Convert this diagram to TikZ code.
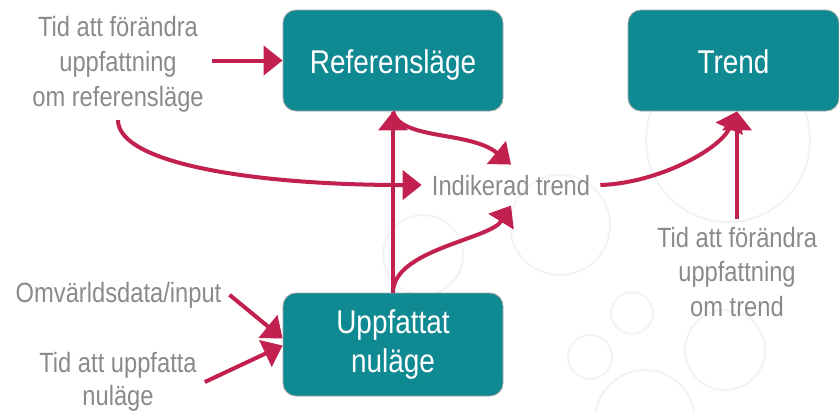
\documentclass[tikz,border=0pt]{standalone}
\usepackage{fontspec}
\setmainfont{Liberation Sans}[FakeStretch=0.85]
\usetikzlibrary{arrows.meta}
\definecolor{teal1}{HTML}{0F8A92}
\definecolor{arrred}{HTML}{C2214F}
\definecolor{txtgray}{HTML}{8A8A8A}
\definecolor{ring}{HTML}{F3F3F3}
\begin{document}
\begin{tikzpicture}[x=1bp,y=-1bp,
  box/.style={draw=black!35, line width=0.8bp, fill=teal1, rounded corners=13bp, text=white, font=\fontsize{33}{40}\selectfont, align=center, inner sep=0pt},
  lbl/.style={text=txtgray, font=\fontsize{28}{35}\selectfont, align=center, inner sep=8bp},
  arr/.style={draw=arrred, line width=4bp, -{Triangle[length=19bp,width=29bp]}},
  ringst/.style={draw=ring, line width=2bp}]
\useasboundingbox (0,0) rectangle (839,413);
% faint background rings
\draw[ringst] (560,225) circle[radius=50];
\draw[ringst] (423,255) circle[radius=40];
\draw[ringst] (632,313) circle[radius=21];
\draw[ringst] (590,357) circle[radius=22];
\draw[ringst] (725,350) circle[radius=40];
\draw[ringst] (645,420) circle[radius=50];
\draw[ringst] (728,140) circle[radius=82];
% boxes
\node[box, minimum width=220bp, minimum height=101bp, text height=30bp, text depth=5bp] (ref) at (393,60.5) {Referensläge};
\node[box, minimum width=211bp, minimum height=101bp, text height=30bp, text depth=5bp] (trend) at (733.5,60.5) {Trend};
\node[box, minimum width=220bp, minimum height=103bp] (upp) at (393,344.5) {Uppfattat\\nuläge};
% labels
\node[lbl] (tidref) at (118,64) {Tid att förändra\\uppfattning\\om referensläge};
\node[lbl, anchor=base, inner sep=10bp] (ind) at (511,195) {Indikerad trend};
\node[lbl] (tidtrend) at (737,272) {Tid att förändra\\uppfattning\\om trend};
\node[lbl, anchor=base] (omv) at (118.5,302) {Omvärldsdata/input};
\node[lbl, font=\fontsize{28}{33}\selectfont] (tidupp) at (118,382) {Tid att uppfatta\\nuläge};
% connectors
\draw[arr] (tidref.east |- ref.west) -- (ref.west);
\draw[arr] (tidref.south) .. controls +(0,43) and +(-170,0) .. (ind.west);
\draw[arr] (upp.north) -- (ref.south);
\draw[arr] (ref.south) .. controls +(7,29) and +(-41,-34) .. (ind.north);
\draw[arr] (upp.north) .. controls +(0,-43) and +(-21,34) .. (ind.south);
\draw[arr] (ind.east) .. controls +(58,-2) and +(-17,38) .. (tidtrend.north |- trend.south);
\draw[arr] (tidtrend.north) -- (tidtrend.north |- trend.south);
\draw[arr] (omv.east) -- ([yshift=6bp]upp.west);
\draw[arr] (tidupp.east) -- ([yshift=-1bp]upp.west);
\end{tikzpicture}
\end{document}
